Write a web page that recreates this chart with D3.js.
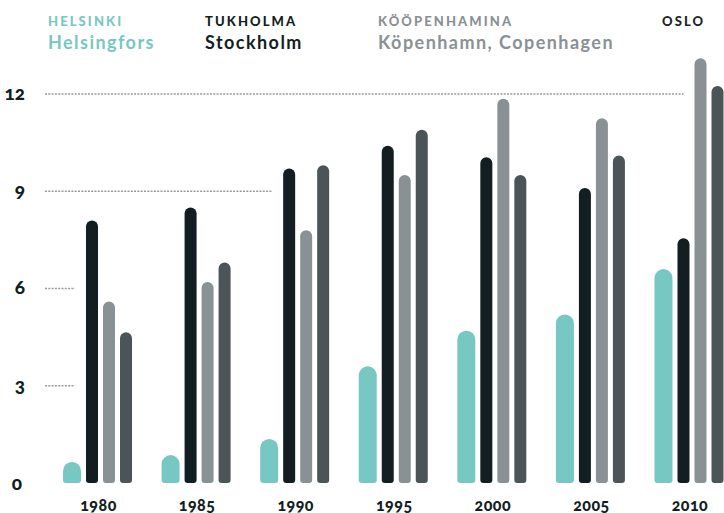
<!DOCTYPE html>
<html>
<head>
<meta charset="utf-8">
<script src="https://cdn.jsdelivr.net/npm/d3@7/dist/d3.min.js"></script>
<style>
  html, body { margin: 0; padding: 0; background: #ffffff; }
  svg { display: block; }
  text { font-family: Lato, "Open Sans", sans-serif; }
  .num { font-variant-numeric: oldstyle-nums; font-feature-settings: "onum" 1; }
</style>
</head>
<body>
<svg id="chart" width="724" height="513"></svg>
<script>
// Years on the x axis
const years = ["1980", "1985", "1990", "1995", "2000", "2005", "2010"];

// City series (Finnish name, Swedish/English name)
const cityKeys   = ["helsinki", "tukholma", "koopenhamina", "oslo"];
const cityTitles = ["HELSINKI", "TUKHOLMA", "KÖÖPENHAMINA", "OSLO"];
const citySubs   = ["Helsingfors", "Stockholm", "Köpenhamn, Copenhagen", ""];

// Values per city, one per year
const helsinki     = [0.65, 0.86, 1.36, 3.6, 4.7, 5.2, 6.6];
const tukholma     = [8.1, 8.5, 9.7, 10.4, 10.05, 9.1, 7.55];
const koopenhamina = [5.6, 6.2, 7.8, 9.5, 11.85, 11.25, 13.1];
const oslo         = [4.65, 6.8, 9.8, 10.9, 9.5, 10.1, 12.25];

// Y axis ticks
const yTicks = [0, 3, 6, 9, 12];

const seriesValues = [helsinki, tukholma, koopenhamina, oslo];
const colors = ["#77c8c2", "#131e23", "#8a9195", "#4b5558"];
const titleColors = ["#77c8c2", "#131e23", "#8a9195", "#1c2529"];
const subColors = ["#77c8c2", "#131e23", "#8a9195", "#131e23"];

const svg = d3.select("#chart");

const y = d3.scaleLinear().domain([0, 12]).range([483, 94]);

const x0 = d3.scaleBand()
  .domain(years)
  .range([63, 723.5])
  .paddingInner(0.30)
  .paddingOuter(0);

// Bar widths inside a year group: the first city is drawn wider
const barWidths = [18, 12, 12, 12];
const barGap = 5;
const offsets = [];
barWidths.reduce((acc, w, i) => { offsets[i] = acc; return acc + w + barGap; }, 0);
const xOff = d3.scaleOrdinal().domain(cityKeys).range(offsets);
const wScale = d3.scaleOrdinal().domain(cityKeys).range(barWidths);

const bars = [];
years.forEach((yr, yi) => {
  cityKeys.forEach((k, ci) => {
    bars.push({ year: yr, key: k, ci, value: seriesValues[ci][yi] });
  });
});
bars.forEach(b => {
  b.x = x0(b.year) + xOff(b.key);
  b.w = wScale(b.key);
});

// Dotted gridlines stop shortly before the first bar that rises above them
yTicks.filter(t => t > 0).forEach(t => {
  const first = bars.filter(b => b.value > t).sort((a, b) => a.x - b.x)[0];
  const xEnd = first ? first.x - 11 : 700;
  svg.append("line")
    .attr("x1", 45).attr("x2", xEnd)
    .attr("y1", y(t)).attr("y2", y(t))
    .attr("stroke", "#9a9a9a")
    .attr("stroke-width", 1.4)
    .attr("stroke-dasharray", "2,1.3");
});

// Y tick labels
svg.append("g").selectAll("text")
  .data(yTicks)
  .join("text")
  .attr("class", "num")
  .attr("x", d => d === 0 ? 22 : 25)
  .attr("y", d => y(d) + (d === 0 ? 2 : 1))
  .attr("text-anchor", "end")
  .attr("dominant-baseline", "middle")
  .attr("font-size", 19)
  .attr("font-weight", 900)
  .attr("fill", "#131e23")
  .text(d => d);

// Bars: rounded top, lightly rounded bottom
function barPath(b) {
  const x = b.x, w = b.w, y1 = y(b.value), y0 = y(0);
  const h = y0 - y1;
  const rt = Math.min(w / 2, h / 2);
  const rb = Math.min(3, h / 2);
  return `M${x},${y0 - rb}` +
    `L${x},${y1 + rt}` +
    `A${rt},${rt} 0 0 1 ${x + rt},${y1}` +
    `L${x + w - rt},${y1}` +
    `A${rt},${rt} 0 0 1 ${x + w},${y1 + rt}` +
    `L${x + w},${y0 - rb}` +
    `A${rb},${rb} 0 0 1 ${x + w - rb},${y0}` +
    `L${x + rb},${y0}` +
    `A${rb},${rb} 0 0 1 ${x},${y0 - rb}Z`;
}

svg.append("g").selectAll("path")
  .data(bars)
  .join("path")
  .attr("d", barPath)
  .attr("fill", d => colors[d.ci]);

// Year labels
svg.append("g").selectAll("text")
  .data(years)
  .join("text")
  .attr("class", "num")
  .attr("x", d => x0(d) + x0.bandwidth() / 2 + 1)
  .attr("y", 511)
  .attr("text-anchor", "middle")
  .attr("font-size", 16)
  .attr("font-weight", 900)
  .attr("letter-spacing", 0.5)
  .attr("fill", "#131e23")
  .text(d => d);

// Legend
const legendX = [48, 205, 378, 662];
const legend = svg.append("g");
cityKeys.forEach((k, i) => {
  legend.append("text")
    .attr("x", legendX[i]).attr("y", 26)
    .attr("font-size", 13)
    .attr("font-weight", 900)
    .attr("letter-spacing", 2.1)
    .attr("fill", titleColors[i])
    .text(cityTitles[i]);
  if (citySubs[i]) {
    legend.append("text")
      .attr("x", legendX[i]).attr("y", 49)
      .attr("font-size", 18)
      .attr("font-weight", 700)
      .attr("letter-spacing", 1.45)
      .attr("fill", subColors[i])
      .text(citySubs[i]);
  }
});
</script>
</body>
</html>
